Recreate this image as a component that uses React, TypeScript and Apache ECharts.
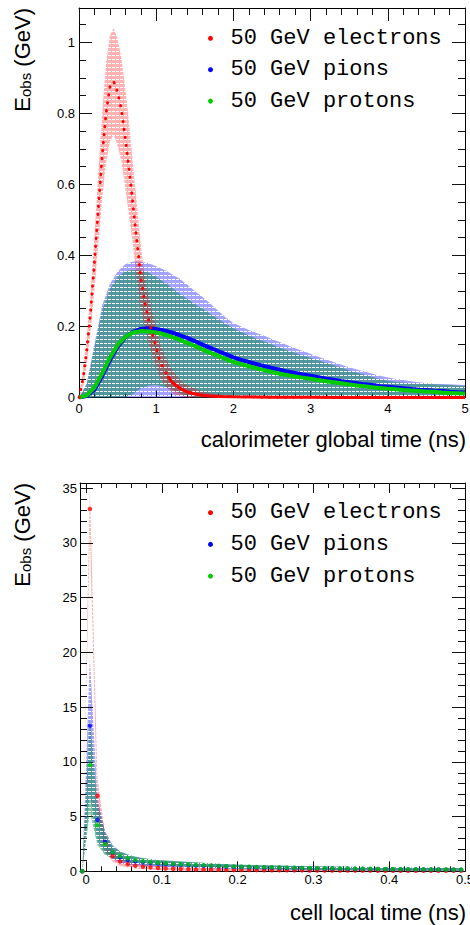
import React, { useEffect, useRef } from 'react';
import * as echarts from 'echarts';

const FONT = '"Liberation Sans", Arial, Helvetica, sans-serif';
const MONO = '"Liberation Mono", "Courier New", monospace';

const seriesNames = ['50 GeV electrons', '50 GeV pions', '50 GeV protons'];
const seriesColors = ['#ff0000', '#0000ff', '#00cc00'];

// ---------------- upper panel: calorimeter global time ----------------
const globalTime = [0,0.1,0.2,0.3,0.4,0.5,0.6,0.7,0.8,0.9,1,1.1,1.2,1.3,1.4,1.5,1.6,1.7,1.8,1.9,2,2.1,2.2,2.3,2.4,2.5,2.6,2.7,2.8,2.9,3,3.1,3.2,3.3,3.4,3.5,3.6,3.7,3.8,3.9,4,4.1,4.2,4.3,4.4,4.5,4.6,4.7,4.8,4.9,5];
const pionGlobal = [0,0.004,0.022,0.06,0.104,0.143,0.17,0.185,0.193,0.195,0.193,0.189,0.183,0.176,0.168,0.159,0.149,0.14,0.131,0.122,0.113,0.106,0.1,0.094,0.088,0.083,0.078,0.073,0.069,0.065,0.061,0.057,0.053,0.05,0.046,0.043,0.04,0.037,0.035,0.032,0.03,0.028,0.026,0.024,0.022,0.021,0.019,0.018,0.016,0.015,0.014];
const protonGlobal = [0,0.006,0.028,0.068,0.112,0.148,0.171,0.183,0.187,0.186,0.183,0.178,0.171,0.163,0.154,0.145,0.135,0.126,0.117,0.108,0.1,0.094,0.088,0.082,0.077,0.072,0.067,0.063,0.059,0.056,0.053,0.049,0.046,0.043,0.04,0.037,0.034,0.032,0.029,0.027,0.025,0.023,0.021,0.02,0.018,0.017,0.016,0.014,0.013,0.012,0.011];
const pionGlobalHi = [0,0.04,0.15,0.26,0.32,0.355,0.375,0.383,0.382,0.378,0.37,0.36,0.348,0.335,0.318,0.3,0.283,0.265,0.245,0.225,0.21,0.2,0.19,0.182,0.174,0.165,0.156,0.147,0.139,0.131,0.123,0.115,0.107,0.1,0.092,0.085,0.079,0.073,0.067,0.061,0.056,0.052,0.049,0.046,0.043,0.041,0.039,0.038,0.037,0.036,0.035];
const pionGlobalLo = [0,0,0,0,0,0,0,0,0,0,0,0,0,0,0,0,0,0,0,0,0,0,0,0,0,0,0,0,0,0,0,0,0,0,0,0,0,0,0,0,0,0,0,0,0,0,0,0,0,0,0];
const protonGlobalHi = [0,0.035,0.14,0.245,0.305,0.34,0.355,0.36,0.358,0.352,0.34,0.325,0.31,0.293,0.278,0.263,0.25,0.236,0.222,0.208,0.196,0.185,0.175,0.166,0.158,0.149,0.141,0.133,0.126,0.119,0.112,0.105,0.098,0.091,0.084,0.077,0.07,0.064,0.058,0.052,0.047,0.044,0.042,0.04,0.039,0.038,0.037,0.036,0.035,0.034,0.033];
const protonGlobalLo = [0,0,0,0,0,0,0,0.01,0.025,0.033,0.035,0.03,0.022,0.012,0.004,0,0,0,0,0,0,0,0,0,0,0,0,0,0,0,0,0,0,0,0,0,0,0,0,0,0,0,0,0,0,0,0,0,0,0,0];

const electronTime = [0,0.05,0.1,0.15,0.2,0.25,0.3,0.35,0.4,0.45,0.5,0.55,0.6,0.65,0.7,0.75,0.8,0.85,0.9,0.95,1,1.05,1.1,1.15,1.2,1.25,1.3,1.35,1.4,1.5,1.6,1.7,1.8,2,2.5,3,3.5,4,4.5,5];
const electronGlobal = [0,0.05,0.13,0.24,0.38,0.53,0.68,0.8,0.875,0.89,0.86,0.81,0.73,0.64,0.54,0.44,0.34,0.27,0.22,0.18,0.14,0.1,0.08,0.06,0.045,0.035,0.027,0.021,0.016,0.01,0.006,0.004,0.003,0.002,0.001,0.001,0,0,0,0];
const electronGlobalHi = [0.01,0.075,0.17,0.295,0.455,0.63,0.8,0.94,1.02,1.04,1.01,0.955,0.87,0.77,0.655,0.545,0.43,0.34,0.285,0.24,0.195,0.15,0.125,0.1,0.08,0.065,0.052,0.042,0.035,0.025,0.017,0.012,0.009,0.006,0.003,0.002,0.002,0.002,0.002,0.002];
const electronGlobalLo = [0,0.025,0.09,0.185,0.305,0.43,0.56,0.66,0.72,0.74,0.71,0.665,0.59,0.51,0.425,0.335,0.25,0.2,0.155,0.12,0.085,0.055,0.04,0.025,0.015,0.008,0.004,0.002,0,0,0,0,0,0,0,0,0,0,0,0];

// ---------------- lower panel: cell local time ----------------
const localTime = [-0.005,0.005,0.015,0.025,0.035,0.045,0.055,0.065,0.075,0.085,0.095,0.105,0.115,0.125,0.135,0.145,0.155,0.165,0.175,0.185,0.195,0.205,0.215,0.225,0.235,0.245,0.255,0.265,0.275,0.285,0.295,0.305,0.315,0.325,0.335,0.345,0.355,0.365,0.375,0.385,0.395,0.405,0.415,0.425,0.435,0.445,0.455,0.465,0.475,0.485,0.495];
const electronLocal = [0,33.1,6.9,2.6,1.4,0.9,0.66,0.5,0.42,0.36,0.3,0.26,0.23,0.21,0.19,0.17,0.16,0.15,0.14,0.13,0.12,0.115,0.11,0.105,0.1,0.095,0.09,0.087,0.083,0.08,0.077,0.074,0.071,0.068,0.066,0.064,0.062,0.06,0.058,0.056,0.054,0.053,0.052,0.05,0.049,0.048,0.047,0.046,0.045,0.044,0.043];
const pionLocal = [0,13.3,4.7,2.7,1.75,1.3,1.05,0.92,0.84,0.77,0.71,0.67,0.63,0.6,0.57,0.54,0.51,0.49,0.46,0.44,0.41,0.39,0.38,0.36,0.35,0.34,0.32,0.31,0.3,0.29,0.28,0.27,0.26,0.25,0.24,0.23,0.225,0.22,0.21,0.2,0.195,0.19,0.185,0.18,0.175,0.17,0.165,0.16,0.155,0.15,0.145];
const protonLocal = [0,9.7,4.2,2.5,1.75,1.4,1.19,1.03,0.93,0.85,0.78,0.73,0.69,0.65,0.62,0.59,0.56,0.53,0.5,0.47,0.44,0.42,0.41,0.39,0.38,0.37,0.35,0.34,0.33,0.31,0.3,0.29,0.28,0.27,0.26,0.25,0.245,0.24,0.23,0.22,0.21,0.205,0.2,0.195,0.19,0.18,0.175,0.17,0.165,0.16,0.155];

const bandLocalTime = [-0.005,0.005,0.015,0.025,0.035,0.045,0.055,0.065,0.075,0.085,0.095,0.145,0.195,0.295,0.395,0.495];
const electronLocalHi = [0,35,8.6,3.4,1.9,1.3,1.0,0.78,0.66,0.57,0.5,0.32,0.24,0.16,0.12,0.1];
const electronLocalLo = [0,31,5.2,1.8,0.9,0.5,0.35,0.25,0.2,0.16,0.12,0.05,0.02,0.01,0,0];
const pionLocalHi = [0,19.5,6.6,3.7,2.4,1.8,1.5,1.3,1.2,1.1,1.0,0.8,0.6,0.45,0.35,0.3];
const pionLocalLo = [0,7.0,2.8,1.7,1.1,0.8,0.6,0.55,0.5,0.45,0.42,0.3,0.2,0.12,0.08,0.05];
const protonLocalHi = [0,14,6.0,3.5,2.3,1.8,1.55,1.35,1.22,1.12,1.03,0.82,0.62,0.45,0.36,0.3];
const protonLocalLo = [0,5.4,2.4,1.5,1.2,1.0,0.85,0.72,0.64,0.58,0.53,0.38,0.27,0.15,0.08,0.05];

// ---------------- axis ticks ----------------
const topXMajor = [0, 1, 2, 3, 4, 5];
const topYMajor = [0, 0.2, 0.4, 0.6, 0.8, 1];
const botXMajor = [0, 0.1, 0.2, 0.3, 0.4, 0.5];
const botYMajor = [0, 5, 10, 15, 20, 25, 30, 35];

function minorValues(from: number, to: number, step: number, majors: number[]) {
  const out: number[] = [];
  const n = Math.round((to - from) / step);
  for (let i = 0; i <= n; i++) {
    const v = +(from + i * step).toFixed(6);
    if (!majors.some((m) => Math.abs(m - v) < 1e-9)) out.push(v);
  }
  return out;
}

function hatch(r: number, g: number, b: number, a: number) {
  const c = document.createElement('canvas');
  c.width = 4;
  c.height = 4;
  const ctx = c.getContext('2d')!;
  ctx.fillStyle = `rgba(${r},${g},${b},${a})`;
  ctx.fillRect(0, 0, 4, 3);
  ctx.fillRect(3, 3, 1, 1);
  return { image: c.toDataURL(), repeat: 'repeat', imageWidth: 4, imageHeight: 4 };
}

function axisSet(
  grid: number, min: number, max: number, major: number[], minor: number[],
  mainPos: string, oppPos: string, lens: number[], labelMargin: number
) {
  const mk = (pos: string, values: number[], len: number, line: boolean, label: boolean) => ({
    type: 'value', gridIndex: grid, position: pos, min, max,
    splitLine: { show: false },
    minorTick: { show: false },
    axisPointer: { show: false },
    axisLine: { show: line, onZero: false, lineStyle: { color: '#000', width: 1 } },
    axisTick: { show: true, inside: true, length: len, customValues: values, lineStyle: { color: '#111', width: 1 } },
    axisLabel: label
      ? { show: true, customValues: major, margin: labelMargin, fontSize: 13, fontFamily: FONT, color: '#000' }
      : { show: false },
  });
  return [
    mk(mainPos, major, lens[0], true, true),
    mk(mainPos, minor, lens[1], false, false),
    mk(oppPos, major, lens[2], true, false),
    mk(oppPos, minor, lens[3], false, false),
  ];
}

function band(name: string, xs: number[], lo: number[], hi: number[], fill: any, axis: number) {
  return {
    type: 'custom', name, xAxisIndex: axis, yAxisIndex: axis, z: 1, silent: true,
    data: xs.map((x, i) => [x, lo[i], hi[i]]),
    encode: { x: 0, y: [1, 2] },
    renderItem: (params: any, api: any) => {
      if (params.dataIndex !== 0) return null;
      const pts: number[][] = [];
      for (let i = 0; i < xs.length; i++) pts.push(api.coord([xs[i], hi[i]]));
      for (let i = xs.length - 1; i >= 0; i--) pts.push(api.coord([xs[i], lo[i]]));
      return { type: 'polygon', shape: { points: pts }, style: { fill, stroke: null } };
    },
  };
}

export default function App() {
  const ref = useRef<HTMLDivElement>(null);
  useEffect(() => {
    if (!ref.current) return;
    const chart = echarts.init(ref.current, null, { renderer: 'svg' });

    const pinkHatch = hatch(255, 0, 0, 0.3);
    const blueHatch = hatch(0, 0, 255, 0.36);
    const greenHatch = hatch(0, 140, 60, 0.5);

    const xAxes = [
      ...axisSet(0, 0, 5, topXMajor, minorValues(0, 5, 0.2, topXMajor), 'bottom', 'top', [7, 4, 13, 7], 4),
      ...axisSet(1, -0.008, 0.5, botXMajor, minorValues(0, 0.5, 0.02, botXMajor), 'bottom', 'top', [10, 5, 10, 5], 2),
    ];
    const yAxes = [
      ...axisSet(0, 0, 1.097, topYMajor, minorValues(0, 1.05, 0.05, topYMajor), 'left', 'right', [13, 7, 13, 7], 4),
      ...axisSet(1, 0, 35.47, botYMajor, minorValues(0, 35, 1, botYMajor), 'left', 'right', [13, 7, 13, 7], 3),
    ];

    const pt = (xs: number[], ys: number[]) => xs.map((x, i) => [x, ys[i]]);
    const tailStart = electronTime.indexOf(1.15);

    const series: any[] = [
      band('pion band', globalTime, pionGlobalLo, pionGlobalHi, blueHatch, 0),
      band('proton band', globalTime, protonGlobalLo, protonGlobalHi, greenHatch, 0),
      band('electron band', electronTime, electronGlobalLo, electronGlobalHi, pinkHatch, 0),
      {
        type: 'line', name: seriesNames[1], xAxisIndex: 0, yAxisIndex: 0, z: 3, silent: true,
        data: pt(globalTime, pionGlobal), symbol: 'none',
        itemStyle: { color: seriesColors[1] }, lineStyle: { color: seriesColors[1], width: 4 },
      },
      {
        type: 'line', name: seriesNames[2], xAxisIndex: 0, yAxisIndex: 0, z: 3, silent: true,
        data: pt(globalTime, protonGlobal), symbol: 'none',
        itemStyle: { color: seriesColors[2] }, lineStyle: { color: seriesColors[2], width: 4 },
      },
      {
        type: 'line', name: seriesNames[0], xAxisIndex: 0, yAxisIndex: 0, z: 4, silent: true,
        data: pt(electronTime, electronGlobal), symbol: 'none',
        itemStyle: { color: seriesColors[0] },
        lineStyle: { color: seriesColors[0], width: 2.8, type: [0.5, 7.5], cap: 'round' },
      },
      {
        type: 'line', name: seriesNames[0], xAxisIndex: 0, yAxisIndex: 0, z: 4, silent: true,
        data: pt(electronTime, electronGlobal).slice(tailStart), symbol: 'none',
        itemStyle: { color: seriesColors[0] }, lineStyle: { color: seriesColors[0], width: 3 },
      },
      band('electron local band', bandLocalTime, electronLocalLo, electronLocalHi, pinkHatch, 4),
      band('pion local band', bandLocalTime, pionLocalLo, pionLocalHi, blueHatch, 4),
      band('proton local band', bandLocalTime, protonLocalLo, protonLocalHi, greenHatch, 4),
      {
        type: 'scatter', name: seriesNames[0], xAxisIndex: 4, yAxisIndex: 4, z: 3, silent: true,
        data: pt(localTime, electronLocal), symbol: 'circle', symbolSize: 4.5,
        itemStyle: { color: seriesColors[0] },
      },
      {
        type: 'scatter', name: seriesNames[1], xAxisIndex: 4, yAxisIndex: 4, z: 3, silent: true,
        data: pt(localTime, pionLocal), symbol: 'circle', symbolSize: 4.5,
        itemStyle: { color: seriesColors[1] },
      },
      {
        type: 'scatter', name: seriesNames[2], xAxisIndex: 4, yAxisIndex: 4, z: 3, silent: true,
        data: pt(localTime, protonLocal), symbol: 'circle', symbolSize: 4.5,
        itemStyle: { color: seriesColors[2] },
      },
    ];

    const legendBase = {
      data: seriesNames, orient: 'vertical', left: 208, icon: 'circle',
      itemWidth: 30, itemHeight: 5, padding: 0, selectedMode: false,
      textStyle: { fontFamily: MONO, fontSize: 22, lineHeight: 22, color: '#000' },
    };

    const yTitle = (y: number) => ({
      type: 'text', x: 22.4, y, rotation: Math.PI / 2, silent: true,
      style: {
        text: '{a|E}{b|obs}{a| (GeV)}',
        align: 'right', verticalAlign: 'middle',
        rich: {
          a: { fontSize: 22, lineHeight: 22, fontFamily: FONT, fill: '#000', verticalAlign: 'top' },
          b: { fontSize: 15, lineHeight: 15, fontFamily: FONT, fill: '#000', verticalAlign: 'bottom', padding: [13, 0, 0, 0] },
        },
      },
    });

    chart.setOption({
      animation: false,
      backgroundColor: '#ffffff',
      grid: [
        { left: 79, top: 8, width: 386, height: 389.5, outerBoundsMode: 'none' },
        { left: 80, top: 483, width: 385, height: 388.3, outerBoundsMode: 'none' },
      ],
      xAxis: xAxes,
      yAxis: yAxes,
      legend: [
        { ...legendBase, top: 27.3, itemGap: 9.4 },
        { ...legendBase, top: 501.7, itemGap: 9.7 },
      ],
      graphic: [
        yTitle(8),
        yTitle(483),
        {
          type: 'text', x: 466, y: 439, silent: true,
          style: { text: 'calorimeter global time (ns)', align: 'right', verticalAlign: 'middle', fontSize: 22, fontFamily: FONT, fill: '#000' },
        },
        {
          type: 'text', x: 466, y: 912, silent: true,
          style: { text: 'cell local time (ns)', align: 'right', verticalAlign: 'middle', fontSize: 22, fontFamily: FONT, fill: '#000' },
        },
      ],
      series,
    });

    return () => chart.dispose();
  }, []);

  return (
    <div
      ref={ref}
      style={{ position: 'absolute', left: 0, top: 0, width: 470, height: 925, background: '#fff' }}
    />
  );
}
